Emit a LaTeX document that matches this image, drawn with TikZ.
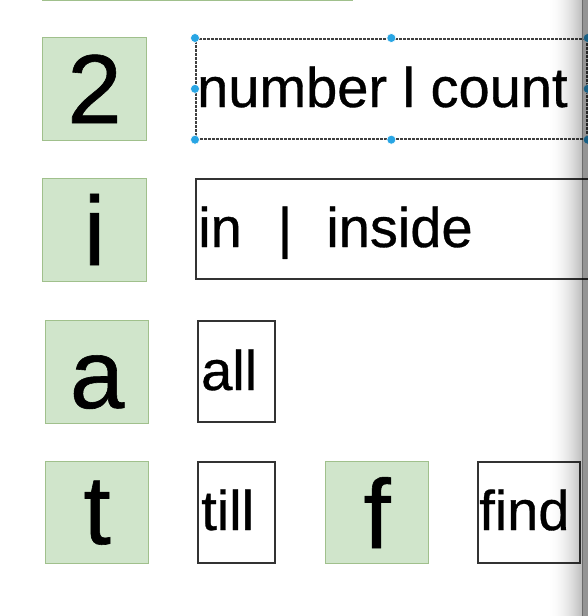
\documentclass[tikz,border=0pt]{standalone}
\usepackage{fontspec}
\setmainfont{Liberation Sans}
\newfontfamily\heavy[FakeBold=0.6]{Liberation Sans}
\definecolor{gfill}{RGB}{208,229,203}
\definecolor{gborder}{RGB}{160,192,140}
\definecolor{handleblue}{RGB}{40,165,228}
\begin{document}
\begin{tikzpicture}[x=1pt,y=-1pt,
  greenbox/.style={draw=gborder, fill=gfill, line width=1.2pt, inner sep=0pt, anchor=north west},
  wordbox/.style={draw=black!80, line width=1.6pt, fill=white, inner sep=0pt, anchor=north west},
  selbox/.style={draw=black!75, line width=1.7pt, dash pattern=on 3pt off 1pt, fill=white, inner sep=0pt, anchor=north west},
  bigletter/.style={font=\heavy\fontsize{98}{100}\selectfont, inner sep=0pt, anchor=base},
  word/.style={font=\heavy\fontsize{56}{60}\selectfont, inner sep=0pt, anchor=base west},
  handle/.style={circle, fill=handleblue, draw=white, line width=0.6pt, minimum size=9pt, inner sep=0pt}]
\useasboundingbox (0,0) rectangle (588,616);
\clip (0,0) rectangle (588,616);
\fill[white] (0,0) rectangle (588,616);
% cut-off box at the top
\node[greenbox, minimum width=310pt, minimum height=30pt, anchor=south west] (gtop) at (42,1) {};
% letter boxes
\node[greenbox, minimum width=104pt, minimum height=103pt] (g2) at (42,37) {};
\node[greenbox, minimum width=104pt, minimum height=103pt] (gi) at (42,178) {};
\node[greenbox, minimum width=103pt, minimum height=103pt] (ga) at (45,320) {};
\node[greenbox, minimum width=103pt, minimum height=102pt] (gt) at (45,461) {};
\node[greenbox, minimum width=103pt, minimum height=102pt] (gf) at (325,461) {};
\node[bigletter] (l2) at ([shift={(0,86)}]g2.north) {2};
\node[bigletter] (li) at ([shift={(0,87)}]gi.north) {i};
\node[bigletter] (la) at ([shift={(0,88)}]ga.north) {a};
\node[bigletter] (lt) at ([shift={(0,83)}]gt.north) {t};
\node[bigletter] (lf) at ([shift={(0,87)}]gf.north) {f};
% word boxes
\node[selbox, minimum width=391pt, minimum height=100pt] (wnum) at (195,38) {};
\node[wordbox, minimum width=405pt, minimum height=100pt] (win) at (195,178) {};
\node[wordbox, minimum width=77pt, minimum height=101pt] (wall) at (197,320) {};
\node[wordbox, minimum width=77pt, minimum height=101pt] (wtill) at (197,461) {};
\node[wordbox, minimum width=102pt, minimum height=101pt] (wfind) at (477,461) {};
\node[word] (tnum) at ([shift={(2,69)}]wnum.north west) {number l count};
\node[word] (tin) at ([shift={(3,69)}]win.north west) {in\hspace{36pt}|\hspace{34pt}inside};
\node[word] (tall) at ([shift={(4,70)}]wall.north west) {all};
\node[word] (ttill) at ([shift={(4,69)}]wtill.north west) {till};
\node[word] (tfind) at ([shift={(2,69)}]wfind.north west) {find};
% selection handles
\foreach \a in {north west,north,north east,west,east,south west,south,south east}
  \node[handle] (h-\a) at (wnum.\a) {};
% screen shadow at the right edge
\foreach \i in {0,...,36}
  \fill[black, opacity={0.28*(\i/37)*(\i/37)}] ({546+\i},0) rectangle ({547.05+\i},616);
\fill[black, opacity=0.42] (582,0) rectangle (588,616);
\end{tikzpicture}
\end{document}
